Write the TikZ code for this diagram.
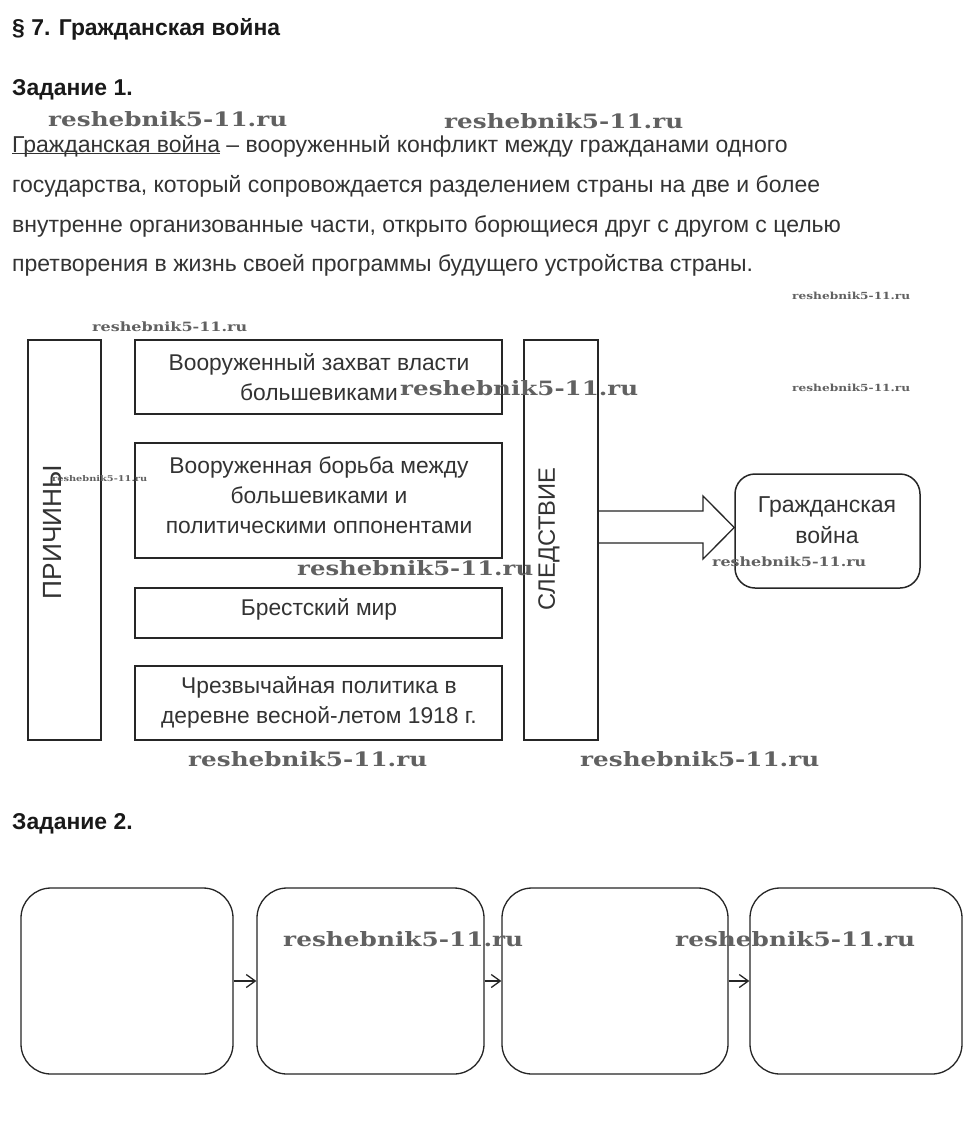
\documentclass[tikz,border=0pt]{standalone}
\usepackage{fontspec}
\setmainfont{Liberation Sans}
\newfontfamily\wmfont{DejaVu Serif}
\usetikzlibrary{arrows.meta}
\newcommand\wmk[5]{\node[wm] (#1) at (#2,#3) {\resizebox{#4pt}{#5pt}{reshebnik5-11.ru}};}
\begin{document}
\begin{tikzpicture}[x=1pt,y=-1pt,
  frame/.style={draw=black!85, line width=1.8pt, inner sep=0pt},
  lbl/.style={text=black!80, font=\fontsize{22.8}{30}\selectfont, align=center, inner sep=0pt},
  para/.style={anchor=base west, inner sep=0pt, text=black!80, font=\fontsize{23}{24}\selectfont},
  head/.style={anchor=base west, inner sep=0pt, text=black!90, font=\bfseries\fontsize{22.9}{24}\selectfont},
  rbox/.style={draw=black!85, line width=1.3pt, rounded corners=30pt, inner sep=0pt},
  wm/.style={anchor=base west, inner sep=0pt, text=black!62, font=\wmfont\bfseries},
  flow/.style={draw=black!85, line width=1.3pt, -{Straight Barb[length=9pt,width=13pt]}},
  bigarrow/.style={draw=black!85, line width=1.3pt},
]
\useasboundingbox[fill=white] (0,0) rectangle (971,1122);

% headings and paragraph
\node[head] (title) at (12,35) {§ 7. Гражданская война};
\node[head] (task1) at (12,95) {Задание 1.};
\node[para] (p1) at (12,152) {\underline{\smash{Гражданская война}} – вооруженный конфликт между гражданами одного};
\node[para] (p2) at (12,192) {государства, который сопровождается разделением страны на две и более};
\node[para] (p3) at (12,232) {внутренне организованные части, открыто борющиеся друг с другом с целью};
\node[para] (p4) at (12,271) {претворения в жизнь своей программы будущего устройства страны.};

% task 1 diagram
\node[frame, minimum width=73pt, minimum height=400pt] (pr) at (64.5,540) {};
\node[lbl, rotate=90, font=\fontsize{26.3}{30}\selectfont] (prt) at (52,532) {ПРИЧИНЫ};

\node[frame, minimum width=367pt, minimum height=74pt] (c1) at (318.5,377) {};
\node[frame, minimum width=367pt, minimum height=115pt] (c2) at (318.5,500.5) {};
\node[frame, minimum width=367pt, minimum height=50pt] (c3) at (318.5,613) {};
\node[frame, minimum width=367pt, minimum height=74pt] (c4) at (318.5,703) {};
\node[lbl] (c1t) at (319,377) {Вооруженный захват власти\\большевиками};
\node[lbl] (c2t) at (319,495) {Вооруженная борьба между\\большевиками и\\политическими оппонентами};
\node[lbl] (c3t) at (319,609) {Брестский мир};
\node[lbl] (c4t) at (319,702.5) {Чрезвычайная политика в\\деревне весной-летом 1918 г.};

\node[frame, minimum width=74pt, minimum height=400pt] (sl) at (561,540) {};
\node[lbl, rotate=90, font=\fontsize{23.7}{30}\selectfont] (slt) at (549,539) {СЛЕДСТВИЕ};

\node[rbox, line width=1.5pt, rounded corners=20pt, minimum width=185pt, minimum height=114pt] (gw) at (827.5,531) {};
\node[lbl, font=\fontsize{23}{31}\selectfont] (gwt) at (827,520) {Гражданская\\война};

\draw[bigarrow] (sl.east |- 0,511) -- (703,511) -- (703,496) -- (gw.west |- 0,527.5)
  -- (703,559) -- (703,543) -- (sl.east |- 0,543);

% task 2
\node[head] (task2) at (12,829) {Задание 2.};
\node[rbox, minimum width=212pt, minimum height=186pt] (b1) at (127,981) {};
\node[rbox, minimum width=227pt, minimum height=186pt] (b2) at (370.5,981) {};
\node[rbox, minimum width=226pt, minimum height=186pt] (b3) at (615,981) {};
\node[rbox, minimum width=212pt, minimum height=186pt] (b4) at (856,981) {};
\draw[flow] (b1) -- (b2);
\draw[flow] (b2) -- (b3);
\draw[flow] (b3) -- (b4);

% watermarks
\wmk{wm1}{48}{126}{239}{15}
\wmk{wm2}{444}{128}{239}{15}
\wmk{wm3}{792}{299}{118}{7.4}
\wmk{wm4}{92}{331}{155}{9.7}
\wmk{wm5}{400}{395}{238}{15}
\wmk{wm6}{792}{391}{118}{7.4}
\wmk{wm7}{52}{481}{95}{6}
\wmk{wm8}{297}{575}{236}{15}
\wmk{wm9}{712}{566}{154}{9.7}
\wmk{wm10}{188}{766}{239}{15}
\wmk{wm11}{580}{766}{239}{15}
\wmk{wm12}{283}{946}{240}{15}
\wmk{wm13}{675}{946}{240}{15}
\end{tikzpicture}
\end{document}
